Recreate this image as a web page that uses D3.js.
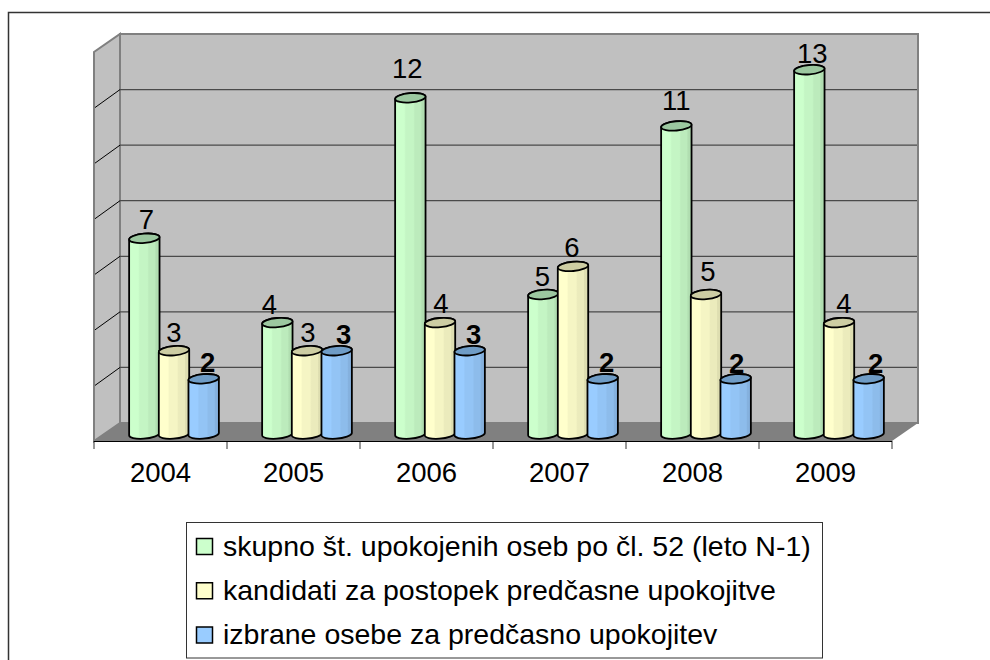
<!DOCTYPE html>
<html>
<head>
<meta charset="utf-8">
<script src="https://cdn.jsdelivr.net/npm/d3@7"></script>
<style>
  html, body { margin: 0; padding: 0; background: #fff; }
  svg { display: block; }
  text { font-family: "Liberation Sans", Arial, sans-serif; fill: #000; }
</style>
</head>
<body>
<div id="viz"></div>
<script>
const years = ['2004', '2005', '2006', '2007', '2008', '2009'];
const seriesNames = [
  'skupno št. upokojenih oseb po čl. 52 (leto N-1)',
  'kandidati za postopek predčasne upokojitve',
  'izbrane osebe za predčasno upokojitev'
];
const skupno = [7, 4, 12, 5, 11, 13];
const kandidati = [3, 3, 4, 6, 5, 4];
const izbrane = [2, 3, 3, 2, 2, 2];
const yTicks = [0, 2, 4, 6, 8, 10, 12, 14];

const seriesValues = [skupno, kandidati, izbrane];
const colors = ['#ccffcc', '#ffffcc', '#99ccff'];
const topColors = ['#9cc8a0', '#cdcda3', '#6f9cc6'];

const width = 990;
const height = 660;
const depthX = 26;
const depthY = 18;

const svg = d3.select('#viz').append('svg')
  .attr('width', width)
  .attr('height', height);

// front plane of the floor, the back wall sits depthX/depthY behind it
const xScale = d3.scaleBand()
  .domain(years)
  .range([94, 892]);

const yScale = d3.scaleLinear()
  .domain([0, 14])
  .range([423, 34]);

const barScale = d3.scaleLinear()
  .domain([0, 14])
  .range([435, 41.6]);

const innerScale = d3.scaleBand()
  .domain(d3.range(3))
  .range([0, 89]);

// outer frame, cut by the page on the right and bottom
svg.append('path')
  .attr('d', `M8.5,${height} V12.5 H${width}`)
  .attr('fill', 'none')
  .attr('stroke', '#333')
  .attr('stroke-width', 1.5);

const defs = svg.append('defs');
colors.forEach((c, i) => {
  const grad = defs.append('linearGradient')
    .attr('id', `cyl${i}`)
    .attr('x1', 0).attr('x2', 1).attr('y1', 0).attr('y2', 0);
  const c1 = d3.color(c);
  const shade = k => d3.rgb(c1.r * k, c1.g * k, c1.b * k).formatHex();
  [[0, 1], [0.3, 1], [0.35, 0.96], [0.6, 0.96], [0.65, 0.92], [0.85, 0.92], [0.88, 0.87], [1, 0.87]]
    .forEach(([o, k]) => grad.append('stop').attr('offset', o).attr('stop-color', shade(k)));
});

const right = xScale.range()[1];
const left = xScale.range()[0];

// walls and floor
svg.append('path')
  .attr('d', `M${left},${yScale(0) + depthY} L${left},${yScale(14) + depthY} L${left + depthX},${yScale(14)} L${left + depthX},${yScale(0)} Z`)
  .attr('fill', '#c0c0c0')
  .attr('stroke', '#808080')
  .attr('stroke-width', 2);

svg.append('rect')
  .attr('x', left + depthX)
  .attr('y', yScale(14))
  .attr('width', right - left)
  .attr('height', yScale(0) - yScale(14))
  .attr('fill', '#c0c0c0')
  .attr('stroke', '#808080')
  .attr('stroke-width', 2);

svg.append('path')
  .attr('d', `M${left},${yScale(0) + depthY} L${left + depthX},${yScale(0)} H${right + depthX} L${right},${yScale(0) + depthY} Z`)
  .attr('fill', '#808080');

// gridlines
const grid = svg.append('g').selectAll('g')
  .data(yTicks.slice(1, -1))
  .enter()
  .append('g');

grid.append('line')
  .attr('x1', left + depthX)
  .attr('x2', right + depthX - 1)
  .attr('y1', d => yScale(d))
  .attr('y2', d => yScale(d))
  .attr('stroke', '#4a4a4a')
  .attr('stroke-width', 1.3);

grid.append('line')
  .attr('x1', left + 1)
  .attr('x2', left + depthX)
  .attr('y1', d => yScale(d) + depthY)
  .attr('y2', d => yScale(d))
  .attr('stroke', '#000')
  .attr('stroke-width', 1);

// axis line with ticks between the years
svg.append('g')
  .selectAll('line')
  .data(years.concat('end'))
  .enter()
  .append('line')
  .attr('x1', d => (d === 'end' ? right : xScale(d)))
  .attr('x2', d => (d === 'end' ? right : xScale(d)))
  .attr('y1', yScale(0) + depthY)
  .attr('y2', yScale(0) + depthY + 8)
  .attr('stroke', '#333')
  .attr('stroke-width', 1);

svg.append('line')
  .attr('x1', left)
  .attr('x2', right)
  .attr('y1', yScale(0) + depthY + 0.5)
  .attr('y2', yScale(0) + depthY + 0.5)
  .attr('stroke', '#000')
  .attr('stroke-width', 1.2);

svg.append('g')
  .selectAll('text')
  .data(years)
  .enter()
  .append('text')
  .attr('x', d => xScale(d) + xScale.bandwidth() / 2)
  .attr('y', 482)
  .attr('text-anchor', 'middle')
  .attr('font-size', 27.5)
  .text(d => d);

// cylinders, slightly tilted like the spreadsheet's 3D view
const rx = 15.2;
const ry = 4.6;
const tilt = 1.2;
const cylinder = (cx, top, bottom) =>
  `M${cx - rx},${top + tilt} V${bottom} A${rx},${ry} -5 0 0 ${cx + rx},${bottom - 2} V${top - tilt} A${rx},${ry} -5 0 0 ${cx - rx},${top + tilt} Z`;

const barX = (yearIndex, seriesIndex) =>
  xScale(years[yearIndex]) + 35.5 + innerScale(seriesIndex) + innerScale.bandwidth() / 2;

// hand placement of the data labels, per series and year: pixels right of the
// bar centre and pixels above the bar top
const labelShift = [
  [2, -8, -3, -1, 0, 3],
  [0, 1, 1, -1, 2, 5],
  [4, 7, 4, 4, 1, 7]
];
const labelLift = [
  [9, 9, 20, 9, 16, 7],
  [9, 9, 10, 9, 14, 10],
  [7, 7, 7, 7, 6, 6]
];

seriesValues.forEach((values, s) => {
  const g = svg.append('g').attr('class', `series-${s}`);

  g.selectAll('text')
    .data(values)
    .enter()
    .append('text')
    .attr('x', (d, i) => barX(i, s) + labelShift[s][i])
    .attr('y', (d, i) => barScale(d) - labelLift[s][i])
    .attr('text-anchor', 'middle')
    .attr('font-size', 27.5)
    .attr('font-weight', s === 2 ? 'bold' : 'normal')
    .text(d => d);

  g.selectAll('path.cyl')
    .data(values)
    .enter()
    .append('path')
    .attr('class', 'cyl')
    .attr('d', (d, i) => cylinder(barX(i, s), barScale(d), barScale(0)))
    .attr('fill', `url(#cyl${s})`)
    .attr('stroke', '#000')
    .attr('stroke-width', 1.8);

  g.selectAll('ellipse')
    .data(values)
    .enter()
    .append('ellipse')
    .attr('cx', (d, i) => barX(i, s))
    .attr('cy', d => barScale(d))
    .attr('rx', rx)
    .attr('ry', ry)
    .attr('transform', (d, i) => `rotate(-5 ${barX(i, s)} ${barScale(d)})`)
    .attr('fill', topColors[s])
    .attr('stroke', '#000')
    .attr('stroke-width', 1.8);
});

// legend
const legendY = d3.scalePoint()
  .domain(d3.range(3))
  .range([546.5, 635]);

svg.append('rect')
  .attr('x', 186.5)
  .attr('y', 522.5)
  .attr('width', 636)
  .attr('height', 135.5)
  .attr('fill', '#fff')
  .attr('stroke', '#333')
  .attr('stroke-width', 1);

const legend = svg.append('g').selectAll('g')
  .data(seriesNames)
  .enter()
  .append('g');

legend.append('rect')
  .attr('x', 196.5)
  .attr('y', (d, i) => legendY(i) - 8)
  .attr('width', 16)
  .attr('height', 16)
  .attr('fill', (d, i) => colors[i])
  .attr('stroke', '#000')
  .attr('stroke-width', 1.5);

legend.append('text')
  .attr('x', 223)
  .attr('y', (d, i) => legendY(i) + 9)
  .attr('font-size', 28.5)
  .text(d => d);
</script>
</body>
</html>
